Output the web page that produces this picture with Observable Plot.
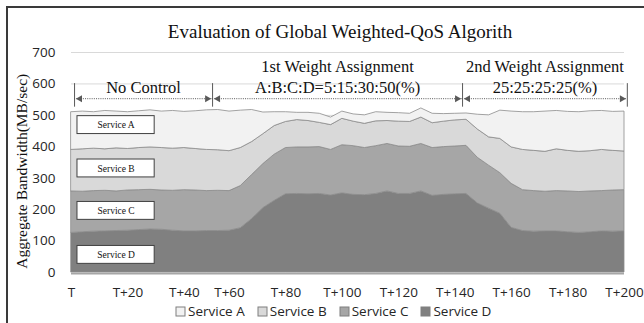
<!DOCTYPE html>
<html><head><meta charset="utf-8">
<script src="https://cdn.jsdelivr.net/npm/d3@7"></script>
<script src="https://cdn.jsdelivr.net/npm/@observablehq/plot@0.6"></script>
<style>
html,body{margin:0;padding:0;background:#fff;}
#wrap{position:relative;width:644px;height:323px;overflow:hidden;font-family:'Open Sans',sans-serif;}
#frame{position:absolute;left:6px;top:6px;width:700px;height:400px;border-left:2px solid #3a3a3a;border-top:2px solid #3a3a3a;}
#chart{position:absolute;left:0;top:0;}
#legend{position:absolute;left:176px;top:302px;}
#legend .lg-swatches{font-family:'Open Sans',sans-serif;font-size:13.5px;color:#262626;min-height:0;margin:0;}
#legend .lg-swatch{margin-right:13px;}
#legend .lg-swatch>svg{margin-right:3px;}
#legend .lg-swatch rect{stroke:#7f7f7f;stroke-width:1;}
</style></head>
<body><div id="wrap"><div id="frame"></div><div id="chart"></div><div id="legend"></div></div>
<script>
// ---- data ----
const services = ["Service A", "Service B", "Service C", "Service D"];
const colors = ["#f2f2f2", "#d9d9d9", "#a6a6a6", "#808080"];
const tickIndex = [0, 5, 10, 14, 19, 24, 29, 34, 39, 44, 49];
const tickLabels = ["T", "T+20", "T+40", "T+60", "T+80", "T+100", "T+120", "T+140", "T+160", "T+180", "T+200"];
const serviceA = [120,120,116,122,117,117,117,118,116,120, 115,120,126,128,126,119,102,69,44,31, 23,26,29,24,23,23,27,29,26,27, 26,29,30,24,21,20,47,70,90,114, 120,123,128,122,124,126,127,124,124,127];
const serviceB = [132,135,135,132,137,132,134,135,135,134, 134,132,131,129,127,121,105,95,91,83, 87,84,77,79,84,78,77,79,73,79, 79,84,79,81,83,83,90,90,109,116, 128,128,127,133,129,128,128,131,126,123];
const serviceC = [132,129,129,129,126,128,127,126,125,127, 131,130,127,128,126,134,140,140,147,147, 148,149,149,145,153,155,150,152,151,151, 150,151,152,152,152,153,145,137,129,140, 130,129,126,128,130,130,130,128,131,131];
const serviceD = [126,128,130,131,132,133,135,137,136,133, 131,131,132,132,133,141,170,205,228,249, 250,249,250,245,252,247,246,250,258,250, 250,258,244,247,249,250,220,203,187,142, 132,130,131,131,128,126,128,131,130,131];
const phaseLabels = ["No Control", "1st Weight Assignment\nA:B:C:D=5:15:30:50(%)", "2nd Weight Assignment\n25:25:25:25(%)"];
const titleText = "Evaluation of Global Weighted-QoS Algorith";
const yLabel = "Aggregate Bandwidth(MB/sec)";

// ---- annotation layout ----
const phaseBounds = [0.27, 12.5, 34.65, 49.25];
const arrowY = 553, barY1 = 526, barY2 = 601, phaseTextY = 570;
const boxYs = [469, 331, 196, 56];
const yLabelPos = {x: -4.35, y: 322};

// ---- build tables ----
const seriesValues = {"Service A": serviceA, "Service B": serviceB, "Service C": serviceC, "Service D": serviceD};
const rows = [];
for (const s of ["Service D", "Service C", "Service B", "Service A"]) {
  seriesValues[s].forEach((v, i) => rows.push({i, service: s, value: v}));
}
const phases = phaseLabels.map((label, k) => ({label, from: phaseBounds[k], to: phaseBounds[k + 1], mid: (phaseBounds[k] + phaseBounds[k + 1]) / 2}));
const heads = [];
phases.forEach(p => { heads.push({x: p.from + 0.48, r: -90}); heads.push({x: p.to - 0.48, r: 90}); });
const boxes = services.map((name, k) => ({name, y: boxYs[k]}));
const serif = "'Liberation Serif', 'Times New Roman', serif";

const plot = Plot.plot({
  width: 644, height: 323,
  marginLeft: 71, marginRight: 20, marginTop: 52, marginBottom: 51,
  style: {fontFamily: "'Open Sans', sans-serif", fontSize: "13.5px", color: "#262626", background: "transparent", overflow: "visible"},
  x: {type: "linear", domain: [0, 49]},
  y: {domain: [0, 700]},
  color: {domain: services, range: colors},
  marks: [
    Plot.gridY(d3.range(100, 701, 100), {stroke: "#d9d9d9", strokeOpacity: 1}),
    Plot.areaY(rows, {x: "i", y: "value", fill: "service", order: ["Service D", "Service C", "Service B", "Service A"], stroke: "#8c8c8c", strokeWidth: 0.8}),
    Plot.ruleY([0], {stroke: "#a6a6a6", strokeWidth: 2, dy: 1}),
    Plot.axisX({ticks: tickIndex, tickFormat: d => tickLabels[tickIndex.indexOf(d)], tickSize: 0, tickPadding: 15, label: null, fontSize: 13.5}),
    Plot.axisY({ticks: d3.range(0, 701, 100), tickSize: 0, tickPadding: 16, label: null, fontSize: 13.5}),
    // service label boxes
    Plot.rect(boxes, {x1: () => 0.53, x2: () => 7.37, y1: d => d.y - 28.5, y2: d => d.y + 28.5, fill: "white", stroke: "#404040", strokeWidth: 1}),
    Plot.text(boxes, {x: () => 3.95, y: "y", text: "name", fontFamily: serif, fontSize: 9.5, fill: "#111"}),
    // phase arrows
    Plot.ruleX(phaseBounds, {y1: barY1, y2: barY2, stroke: "#595959", strokeWidth: 1}),
    Plot.ruleY(phases, {x1: "from", x2: "to", y: () => arrowY, stroke: "#595959", strokeWidth: 1, strokeDasharray: "1,1.2"}),
    Plot.dot(heads, {x: "x", y: () => arrowY, symbol: "triangle2", rotate: "r", r: 3.4, fill: "#595959", stroke: "none"}),
    Plot.text(phases, {x: "mid", y: () => phaseTextY, text: "label", lineAnchor: "bottom", lineHeight: 1.27, fontFamily: serif, fontSize: 16.5, fill: "#111"}),
    // title and y label
    Plot.text([titleText], {text: d => d, frameAnchor: "top", dx: -8, dy: -15, lineAnchor: "bottom", fontFamily: serif, fontSize: 19, fill: "#111"}),
    Plot.text([yLabel], {text: d => d, x: () => yLabelPos.x, y: () => yLabelPos.y, rotate: -90, fontFamily: serif, fontSize: 15.5, fill: "#111"})
  ]
});
document.getElementById("chart").appendChild(plot);

const legend = Plot.legend({color: {type: "ordinal", domain: services, range: colors}, legend: "swatches", swatchSize: 9, className: "lg"});
document.getElementById("legend").appendChild(legend);
</script>
</body></html>
